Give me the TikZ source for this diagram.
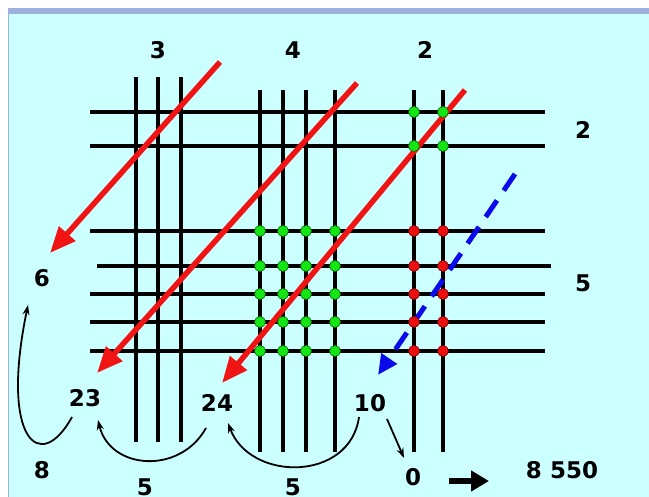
\documentclass[tikz,border=0pt]{standalone}
\usepackage{fontspec}
\setmainfont{DejaVu Sans}
\usetikzlibrary{arrows.meta}

\definecolor{bgcyan}{RGB}{204,255,255}
\definecolor{bandblue}{RGB}{158,178,224}
\definecolor{redline}{RGB}{240,20,20}
\definecolor{blueline}{RGB}{10,10,235}
\definecolor{dotgreen}{RGB}{20,230,20}
\definecolor{dotred}{RGB}{235,15,15}

\begin{document}
\begin{tikzpicture}[
  x=1pt, y=-1pt,
  num/.style={font=\fontsize{23}{26}\selectfont\bfseries, inner sep=1pt},
  bar/.style={line width=4pt},
  redarrow/.style={-{Triangle[length=26pt, width=21pt]}, line width=5.5pt, draw=redline},
  bluearrow/.style={-{Triangle[length=20pt, width=18pt]}, line width=5pt, draw=blueline,
    dash pattern=on 20pt off 12pt},
  hop/.style={-{Stealth[length=10pt, width=7pt]}, line width=1.8pt},
  gdot/.style={fill=dotgreen, draw=green!45!black, line width=0.6pt},
  rdot/.style={fill=dotred, draw=red!50!black, line width=0.6pt},
  bigarrow/.style={-{Triangle[length=18pt, width=20pt]}, line width=6pt}
]
\useasboundingbox (0,0) rectangle (649,497);
\fill[bandblue] (8,8) rectangle (649,14);
\fill[bgcyan] (8,14) rectangle (649,497);
\draw[bandblue, line width=1pt] (8.5,8) -- (8.5,497);

% horizontal lines
\foreach \y in {112,146,231,294,322,351}
  \draw[bar] (90,\y) -- (545,\y);
\draw[bar] (97,266) -- (551,266);

% vertical lines
\foreach \x in {136,158,181}
  \draw[bar] (\x,77) -- (\x,442);
\foreach \x in {260,283,306,335,414,443}
  \draw[bar] (\x,90) -- (\x,452);

% labels
\node[num] (colA) at (158,50) {3};
\node[num] (colB) at (293,50) {4};
\node[num] (colC) at (425,50) {2};
\node[num] (rowA) at (583,130) {2};
\node[num] (rowB) at (583,283) {5};
\node[num] (s6) at (42,278) {6};
\node[num] (s23) at (85,398) {23};
\node[num] (s24) at (217,403) {24};
\node[num] (s10) at (370,403) {10};
\node[num] (s8) at (42,470) {8};
\node[num] (s5a) at (145,487) {5};
\node[num] (s5b) at (293,487) {5};
\node[num] (s0) at (413,477) {0};
\node[num] (total) at (562,470) {8 550};

% diagonal arrows
\coordinate (r1a) at (220,62);
\coordinate (r1b) at (50,253);
\coordinate (r2a) at (357,83);
\coordinate (r2b) at (97,373);
\coordinate (r3a) at (465,90);
\coordinate (r3b) at (222,383);
\coordinate (b1a) at (515,174);
\coordinate (b1b) at (378,375);
\draw[redarrow] (r1a) -- (r1b);
\draw[redarrow] (r2a) -- (r2b);
\draw[redarrow] (r3a) -- (r3b);
\draw[bluearrow] (b1a) -- (b1b);

% dots
\foreach \x in {260,283,306,335}
  \foreach \y in {231,266,294,322,351}
    \filldraw[gdot] (\x,\y) circle[radius=5.5pt];
\foreach \x in {414,443} {
  \foreach \y in {112,146}
    \filldraw[gdot] (\x,\y) circle[radius=5.5pt];
  \foreach \y in {231,266,294,322,351}
    \filldraw[rdot] (\x,\y) circle[radius=5.5pt];
}

% carries
\coordinate (h1a) at (72,417);
\coordinate (h1b) at (28,305);
\coordinate (h2a) at (206,428);
\coordinate (h2b) at (98,420);
\coordinate (h3a) at (359,417);
\coordinate (h3b) at (228,423);
\coordinate (h4a) at (387,419);
\coordinate (h4b) at (404,458);
\draw[hop] (h1a) .. controls (40,475) and (0,440) .. (h1b);
\draw[hop] (h2a) .. controls (180,475) and (110,470) .. (h2b);
\draw[hop] (h3a) .. controls (350,482) and (250,482) .. (h3b);
\draw[hop] (h4a) -- (h4b);

\coordinate (gofrom) at (449,481);
\coordinate (goto) at (489,481);
\draw[bigarrow] (gofrom) -- (goto);
\end{tikzpicture}
\end{document}
